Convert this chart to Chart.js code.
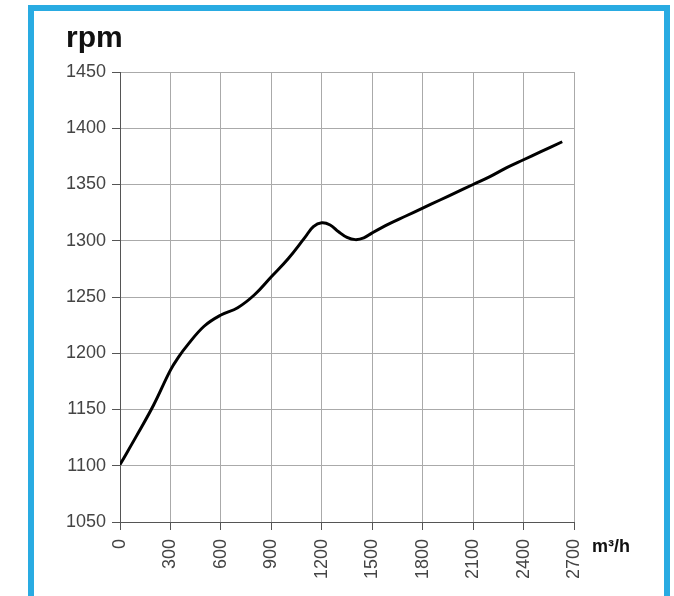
<!DOCTYPE html>
<html>
<head>
<meta charset="utf-8">
<script src="https://cdn.jsdelivr.net/npm/chart.js@4/dist/chart.umd.min.js"></script>
<style>
  html, body { margin: 0; padding: 0; background: #ffffff; }
  #wrap { position: relative; width: 674px; height: 596px; overflow: hidden; }
  #frame { position: absolute; left: 28px; top: 5px; width: 630px; height: 700px; border: 6px solid #29abe2; box-sizing: content-box; }
  canvas { position: absolute; left: 0; top: 0; }
  .lbl { position: absolute; font-family: "Liberation Sans", Arial, sans-serif; font-weight: bold; color: #111; white-space: nowrap; line-height: 1; }
  #ytitle { left: 66px; top: 22px; font-size: 30px; }
  #xtitle { left: 592px; top: 537px; font-size: 18px; }
</style>
</head>
<body>
<div id="wrap">
  <div id="frame"></div>
  <canvas id="c" width="674" height="596"></canvas>
  <div class="lbl" id="ytitle">rpm</div>
  <div class="lbl" id="xtitle">m³/h</div>
</div>
<script>
// Data (airflow m³/h -> rpm)
const airflow = [0, 100, 200, 300, 350, 400, 500, 600, 700, 800, 900, 1000, 1100, 1150, 1200, 1250, 1300, 1350, 1400, 1450, 1500, 1600, 1700, 1800, 1900, 2000, 2100, 2200, 2300, 2400, 2500, 2630];
const rpm     = [1101, 1127, 1154, 1185, 1197, 1207, 1224, 1234, 1240.5, 1252, 1268, 1284, 1303, 1312.5, 1316, 1314, 1308, 1303, 1301, 1302.5, 1307, 1315, 1322, 1329, 1336, 1343, 1350, 1357, 1365, 1372, 1379, 1388];
const xTicks = [0, 300, 600, 900, 1200, 1500, 1800, 2100, 2400, 2700];
const yTicks = [1050, 1100, 1150, 1200, 1250, 1300, 1350, 1400, 1450];

const points = airflow.map((x, i) => ({ x: x, y: rpm[i] }));
const tickFont = { family: '"Liberation Sans", Arial, sans-serif', size: 18 };

new Chart(document.getElementById('c'), {
  type: 'scatter',
  data: {
    datasets: [{
      data: points,
      showLine: true,
      borderColor: '#000000',
      borderWidth: 3,
      pointRadius: 0,
      tension: 0.4,
      fill: false
    }]
  },
  options: {
    responsive: false,
    animation: false,
    events: [],
    layout: { padding: { left: 0, right: 100, top: 72, bottom: 0 } },
    plugins: { legend: { display: false }, tooltip: { enabled: false }, title: { display: false } },
    scales: {
      x: {
        type: 'linear',
        min: 0, max: 2700,
        afterBuildTicks: (s) => { s.ticks = xTicks.map(v => ({ value: v })); },
        afterFit: (s) => { s.height = 74; },
        border: { display: true, color: '#555555', width: 1 },
        grid: { color: '#aaaaaa', lineWidth: 1, drawTicks: true, tickLength: 8, tickColor: '#555555' },
        ticks: {
          maxRotation: 90, minRotation: 90, padding: 9, color: '#444444',
          font: tickFont,
          callback: (v) => String(v)
        }
      },
      y: {
        type: 'linear',
        min: 1050, max: 1450,
        afterBuildTicks: (s) => { s.ticks = yTicks.map(v => ({ value: v })); },
        afterFit: (s) => { s.width = 120; },
        border: { display: true, color: '#555555', width: 1 },
        grid: { color: '#aaaaaa', lineWidth: 1, drawTicks: true, tickLength: 8, tickColor: '#555555' },
        ticks: {
          padding: 6, color: '#444444',
          font: tickFont,
          callback: (v) => String(v)
        }
      }
    }
  }
});
</script>
</body>
</html>
